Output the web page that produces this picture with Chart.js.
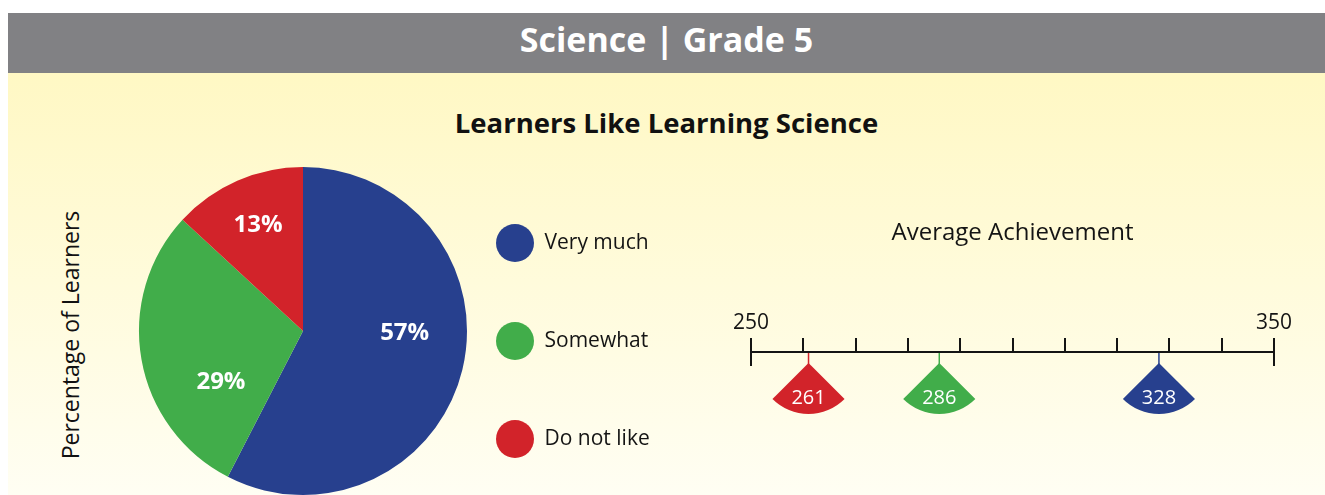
<!DOCTYPE html>
<html>
<head>
<meta charset="utf-8">
<script src="https://cdn.jsdelivr.net/npm/chart.js@4.4.1/dist/chart.umd.min.js"></script>
<style>
  html, body { margin: 0; padding: 0; width: 1325px; height: 495px; overflow: hidden; background: #fff; font-family: "Open Sans", sans-serif; }
  #panel { position: absolute; left: 8px; top: 13px; right: 0; bottom: 0;
    background: linear-gradient(to bottom, #fff8c4 60px, #fffef3 100%); }
  #header { position: absolute; left: 0; top: 0; right: 0; height: 60px; background: #818184;
    color: #fff; font-weight: 700; font-size: 34px; line-height: 52px; text-align: center; }
  #title { position: absolute; left: 0; right: 0; top: 90px; height: 40px; line-height: 40px;
    text-align: center; font-weight: 700; font-size: 27.5px; color: #111; }
  #ylabel { position: absolute; left: 70px; top: 335px; width: 300px; margin-left: -150px; margin-top: -16px;
    height: 32px; line-height: 32px; text-align: center; font-size: 23px; color: #111; transform: rotate(-90deg); }
  canvas { position: absolute; }
  #pie { left: 0; top: 0; }
  #achieve { left: 711px; top: 190px; }
</style>
</head>
<body>
<div id="panel">
  <div id="header">Science | Grade 5</div>
  <div id="title">Learners Like Learning Science</div>
</div>
<div id="ylabel">Percentage of Learners</div>
<canvas id="pie" width="760" height="518"></canvas>
<canvas id="achieve" width="614" height="305"></canvas>
<script>
// 円グラフのデータ
const categories = ['Very much', 'Somewhat', 'Do not like'];
const percentages = [57, 29, 13];
const sliceColors = ['#27408e', '#41ad4a', '#d2232a'];

// 平均点のデータ
const achievementLabels = ['Do not like', 'Somewhat', 'Very much'];
const achievementValues = [261, 286, 328];
const achievementColors = ['#d2232a', '#41ad4a', '#27408e'];
const scaleMin = 250;
const scaleMax = 350;
const scaleStep = 10;
const endTickLabels = ['250', '350'];

const textColor = '#141414';
const fontFamily = '"Open Sans", sans-serif';

// 凡例の寸法
const legendFontSize = 21;
const legendBox = 38;
const legendPadding = 60;
const legendLeft = 436;

/**
 * 円グラフの中のラベル
 */
const pieLabels = {
  id: 'pieLabels',
  afterDatasetsDraw(chart, args, opts) {
    const ctx = chart.ctx;
    const meta = chart.getDatasetMeta(0);
    ctx.save();
    ctx.fillStyle = '#fff';
    ctx.font = 'bold 24px ' + fontFamily;
    ctx.textAlign = 'center';
    ctx.textBaseline = 'middle';
    meta.data.forEach((arc, i) => {
      const p = opts.placement[i];
      const a = p.angle * Math.PI / 180;
      const r = arc.outerRadius * p.radius;
      ctx.fillText(percentages[i] + '%', arc.x + r * Math.cos(a), arc.y + r * Math.sin(a));
    });
    ctx.restore();
  }
};

/**
 * 扇形のマーカー
 */
const fanMarkers = {
  id: 'fanMarkers',
  afterDatasetsDraw(chart, args, opts) {
    const ctx = chart.ctx;
    const meta = chart.getDatasetMeta(0);
    ctx.save();
    meta.data.forEach((pt, i) => {
      const color = achievementColors[i];
      const apexY = pt.y + opts.stem;
      ctx.strokeStyle = color;
      ctx.lineWidth = 1.5;
      ctx.beginPath();
      ctx.moveTo(pt.x, pt.y + 1);
      ctx.lineTo(pt.x, apexY + 2);
      ctx.stroke();
      ctx.fillStyle = color;
      ctx.beginPath();
      ctx.moveTo(pt.x, apexY);
      ctx.arc(pt.x, apexY, opts.radius, Math.PI / 4, Math.PI * 3 / 4);
      ctx.closePath();
      ctx.fill();
      ctx.fillStyle = '#fff';
      ctx.font = '20px ' + fontFamily;
      ctx.textAlign = 'center';
      ctx.textBaseline = 'middle';
      ctx.fillText(String(achievementValues[i]), pt.x, apexY + opts.labelOffset);
    });
    ctx.restore();
  }
};

add_pie_chart();
add_achievement_scale();

/**
 * 凡例の幅（Chart.js の fit と同じ計算）
 */
function legend_width() {
  const c = document.createElement('canvas').getContext('2d');
  c.font = legendFontSize + 'px ' + fontFamily;
  const w = Math.max(...categories.map(t => c.measureText(t).width));
  return legendPadding + legendBox + legendFontSize / 2 + w + 10;
}

function add_pie_chart() {
  const canvas = document.getElementById('pie');
  const lw = legend_width();
  canvas.width = Math.ceil(legendLeft + lw + 10);
  const padRight = canvas.width - legendLeft - lw;
  new Chart(canvas, {
    type: 'pie',
    data: {
      labels: categories,
      datasets: [{
        data: percentages,
        backgroundColor: sliceColors,
        borderWidth: 0,
        clip: false
      }]
    },
    plugins: [pieLabels],
    options: {
      responsive: false,
      animation: false,
      radius: 164,
      layout: { padding: { left: 170, top: 144, right: padRight, bottom: 0 } },
      plugins: {
        tooltip: { enabled: false },
        legend: {
          position: 'right',
          align: 'end',
          labels: {
            boxWidth: legendBox,
            boxHeight: legendBox,
            useBorderRadius: true,
            borderRadius: legendBox / 2,
            padding: legendPadding,
            color: textColor,
            font: { family: fontFamily, size: legendFontSize }
          }
        },
        pieLabels: {
          placement: [
            { angle: 1, radius: 0.62 },
            { angle: 148, radius: 0.59 },
            { angle: 247, radius: 0.70 }
          ]
        }
      }
    }
  });
}

function add_achievement_scale() {
  new Chart(document.getElementById('achieve'), {
    type: 'scatter',
    data: {
      labels: achievementLabels,
      datasets: [{
        data: achievementValues.map(v => ({ x: v, y: 1 })),
        pointRadius: 0,
        clip: false
      }]
    },
    plugins: [fanMarkers],
    options: {
      responsive: false,
      animation: false,
      layout: { padding: { left: 40, right: 51, top: 0, bottom: 129 } },
      scales: {
        x: {
          type: 'linear',
          position: 'top',
          min: scaleMin,
          max: scaleMax,
          ticks: {
            stepSize: scaleStep,
            autoSkip: false,
            maxRotation: 0,
            padding: 2,
            color: textColor,
            font: { family: fontFamily, size: 21 },
            callback: (v) => endTickLabels.includes(String(v)) ? String(v) : ''
          },
          grid: {
            drawOnChartArea: true,
            drawTicks: true,
            tickLength: 14,
            lineWidth: 2,
            tickColor: textColor,
            color: (c) => (c.tick && (c.tick.value === scaleMin || c.tick.value === scaleMax)) ? textColor : 'rgba(0,0,0,0)'
          },
          border: { display: true, color: textColor, width: 2 }
        },
        y: { display: false, min: 0, max: 1 }
      },
      plugins: {
        legend: { display: false },
        tooltip: { enabled: false },
        title: {
          display: true,
          text: 'Average Achievement',
          color: textColor,
          font: { family: fontFamily, size: 24, weight: 'normal' },
          padding: { top: 29, bottom: 61 }
        },
        fanMarkers: { stem: 11, radius: 51, labelOffset: 35 }
      }
    }
  });
}
</script>
</body>
</html>
